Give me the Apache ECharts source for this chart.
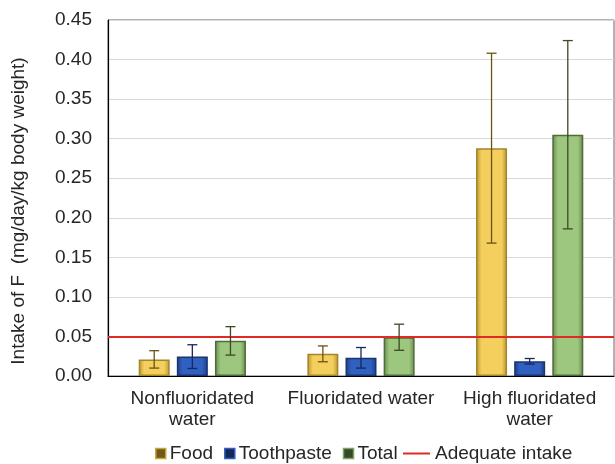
<!DOCTYPE html>
<html>
<head>
<meta charset="utf-8">
<script src="https://cdn.jsdelivr.net/npm/echarts@6/dist/echarts.min.js"></script>
<style>
  html, body { margin: 0; padding: 0; background: #fff; }
  #chart { width: 615px; height: 464px; }
</style>
</head>
<body>
<div id="chart"></div>
<script>
// categories and values
const categories = ['Nonfluoridated\nwater', 'Fluoridated water', 'High fluoridated\nwater'];
const food = [0.021, 0.028, 0.288];
const foodErr = [0.011, 0.010, 0.120];
const toothpaste = [0.0245, 0.023, 0.0186];
const toothpasteErr = [0.015, 0.013, 0.0035];
const total = [0.0444, 0.049, 0.305];
const totalErr = [0.018, 0.0165, 0.119];
const adequateIntake = 0.05;
const yTicks = [0, 0.05, 0.1, 0.15, 0.2, 0.25, 0.3, 0.35, 0.4, 0.45];

const FONT = 'Liberation Sans, Arial, sans-serif';
const TXT = '#262626';
const BAR_W = 31;
const BAR_GAP = 0.23; // fraction of bar width

// side-shaded fill like the excel bars
function shade(light, dark) {
  return new echarts.graphic.LinearGradient(0, 0, 1, 0, [
    { offset: 0, color: dark },
    { offset: 0.18, color: light },
    { offset: 0.82, color: light },
    { offset: 1, color: dark }
  ]);
}

function errData(means, errs) {
  return means.map((m, i) => [i, m - errs[i], m + errs[i]]);
}

// error bars drawn on top of the bar with index idx (0,1,2)
function errSeries(name, means, errs, idx, color) {
  return {
    name: name,
    type: 'custom',
    z: 5,
    silent: true,
    data: errData(means, errs),
    encode: { x: 0, y: [1, 2] },
    renderItem: function (params, api) {
      const off = (idx - 1) * BAR_W * (1 + BAR_GAP);
      const hi = api.coord([api.value(0), api.value(2)]);
      const lo = api.coord([api.value(0), api.value(1)]);
      const x = hi[0] + off;
      const cap = 5;
      const st = { stroke: color, lineWidth: 1.3 };
      return {
        type: 'group',
        children: [
          { type: 'line', shape: { x1: x, y1: hi[1], x2: x, y2: lo[1] }, style: st },
          { type: 'line', shape: { x1: x - cap, y1: hi[1], x2: x + cap, y2: hi[1] }, style: st },
          { type: 'line', shape: { x1: x - cap, y1: lo[1], x2: x + cap, y2: lo[1] }, style: st }
        ]
      };
    }
  };
}

const chart = echarts.init(document.getElementById('chart'));

chart.setOption({
  animation: false,
  textStyle: { fontFamily: FONT, color: TXT },
  grid: {
    left: 108, right: 1, top: 20, bottom: 88,
    show: true, borderColor: '#666', borderWidth: 1
  },
  legend: [
    {
      data: [
        { name: 'Food', itemStyle: { color: '#6e5a1c', borderColor: '#c9a53a', borderWidth: 1.5 } },
        { name: 'Toothpaste', itemStyle: { color: '#16285a', borderColor: '#2f5fbf', borderWidth: 1.5 } },
        { name: 'Total', itemStyle: { color: '#34482a', borderColor: '#7ea263', borderWidth: 1.5 } }
      ],
      left: 155, top: 444, padding: 0,
      icon: 'rect', itemWidth: 10, itemHeight: 10, itemGap: 11,
      textStyle: { fontSize: 19, color: TXT, fontFamily: FONT, padding: [0, 0, 0, -1] }
    },
    {
      data: ['Adequate intake'],
      left: 403, top: 444, padding: 0,
      icon: 'rect', itemWidth: 27, itemHeight: 2,
      textStyle: { fontSize: 19, color: TXT, fontFamily: FONT }
    }
  ],
  xAxis: {
    type: 'category',
    data: categories,
    axisLine: { lineStyle: { color: '#000', width: 1.2 } },
    axisTick: { show: false },
    axisLabel: { fontSize: 19, color: TXT, margin: 12, lineHeight: 21, interval: 0 }
  },
  yAxis: {
    type: 'value',
    min: yTicks[0],
    max: yTicks[yTicks.length - 1],
    interval: 0.05,
    name: 'Intake of F  (mg/day/kg body weight)',
    nameLocation: 'middle',
    nameGap: 80,
    nameTextStyle: { fontSize: 19, color: TXT, padding: [0, 26, 0, 0] },
    axisLine: { show: true, lineStyle: { color: '#000', width: 1.2 } },
    axisTick: { show: false },
    axisLabel: { fontSize: 19, color: TXT, margin: 16, formatter: v => v.toFixed(2) },
    splitLine: { lineStyle: { color: '#d9d9d9' } }
  },
  series: [
    {
      name: 'Food', type: 'bar', data: food,
      barWidth: BAR_W, barGap: (BAR_GAP * 100) + '%',
      itemStyle: { color: shade('#f5cf5e', '#b8952f'), borderColor: '#a4852a', borderWidth: 1.5 }
    },
    {
      name: 'Toothpaste', type: 'bar', data: toothpaste,
      barWidth: BAR_W, barGap: (BAR_GAP * 100) + '%',
      itemStyle: { color: shade('#3060c0', '#1f3d82'), borderColor: '#1b3470', borderWidth: 1.5 }
    },
    {
      name: 'Total', type: 'bar', data: total,
      barWidth: BAR_W, barGap: (BAR_GAP * 100) + '%',
      itemStyle: { color: shade('#9dc67e', '#688b4e'), borderColor: '#506b3b', borderWidth: 1.5 }
    },
    {
      name: 'Adequate intake', type: 'line', data: [],
      color: '#e02a26', symbol: 'none',
      lineStyle: { color: '#e02a26', width: 2 },
      markLine: {
        silent: true, symbol: 'none', z: 4,
        label: { show: false },
        lineStyle: { color: '#e02a26', width: 2, type: 'solid' },
        data: [{ yAxis: adequateIntake }]
      }
    },
    errSeries('Food err', food, foodErr, 0, '#6b5212'),
    errSeries('Toothpaste err', toothpaste, toothpasteErr, 1, '#17295c'),
    errSeries('Total err', total, totalErr, 2, '#3a4a24')
  ]
});
</script>
</body>
</html>
